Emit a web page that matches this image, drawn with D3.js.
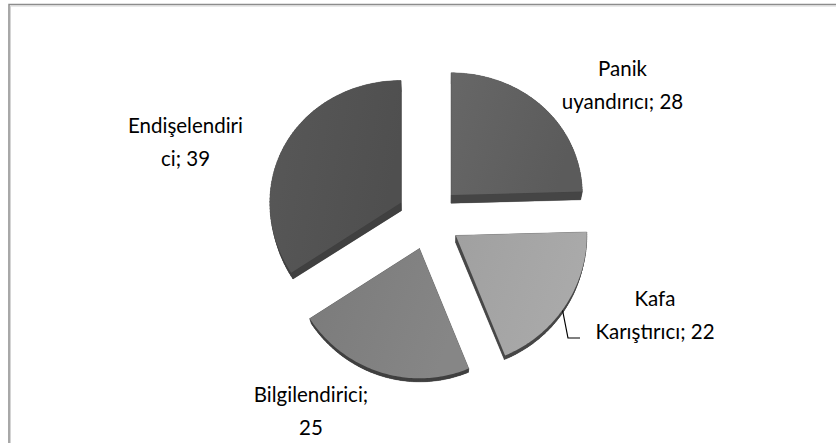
<!DOCTYPE html>
<html lang="tr">
<head>
<meta charset="utf-8">
<script src="https://cdn.jsdelivr.net/npm/d3@7"></script>
<style>
html,body{margin:0;padding:0;background:#fff;overflow:hidden}
svg{display:block}
text{font-family:Lato,"Open Sans",sans-serif;font-size:20.5px;fill:#000;text-anchor:middle}
</style>
</head>
<body>
<svg id="chart" width="836" height="443"></svg>
<script>
const categories = ["Panik uyandırıcı", "Kafa Karıştırıcı", "Bilgilendirici", "Endişelendirici"];
const values = [28, 22, 25, 39];
const labelLines = [
  ["Panik", "uyandırıcı; 28"],
  ["Kafa", "Karıştırıcı; 22"],
  ["Bilgilendirici;", "25"],
  ["Endişelendiri", "ci; 39"]
];
const topColors = [["#676767", "#5b5b5b"], ["#a0a0a0", "#aaaaaa"], ["#7a7a7a", "#868686"], ["#585858", "#4f4f4f"]];
const wallColors = ["#454545", "#474747", "#404040", "#404040"];

const W = 836, H = 443;
const cx = 429, cy = 218, explode = 32, rx = 131, ryMid = 126, persp = 0.03;
const labelPos = [[622.5, 76], [655, 306], [311, 402], [185.5, 133]];
const lineGap = 33;

const svg = d3.select("#chart");
const defs = svg.append("defs");

svg.append("path")
  .attr("d", `M9 ${H} V4.5 H${W}`)
  .attr("fill", "none").attr("stroke", "#8c8c8c").attr("stroke-width", 1.5);
svg.append("path")
  .attr("d", `M10.5 ${H} V6 H${W}`)
  .attr("fill", "none").attr("stroke", "#d4d4d4").attr("stroke-width", 1);

const arcs = d3.pie().sort(null).startAngle(0).endAngle(2 * Math.PI)(values);

const depthScale = d3.scaleLinear().domain([200, 380]).range([8, 3.5]);
const shiftScale = d3.scaleLinear().domain([290, 590]).range([1.8, -1.8]);
const line = d3.line().x(d => d[0]).y(d => d[1]);

arcs.forEach((a, i) => {
  const mid = (a.startAngle + a.endAngle) / 2;
  const ox = cx + explode * Math.sin(mid);
  const oy = cy - explode * Math.cos(mid);
  const pt = ang => {
    const t = -Math.cos(ang);
    return [ox + rx * Math.sin(ang), oy + ryMid * t * (1 + persp * t)];
  };
  const n = 80;
  const outline = [[ox, oy]].concat(d3.range(n + 1).map(k => pt(a.startAngle + (a.endAngle - a.startAngle) * k / n)));
  const lower = outline.map(p => [p[0] + shiftScale(p[0]), p[1] + depthScale(p[1])]);

  const g = svg.append("g").attr("class", "slice").datum(categories[i]);
  g.append("path").attr("d", line(lower) + "Z").attr("fill", wallColors[i]);
  g.selectAll("path.wall").data(d3.range(outline.length)).join("path")
    .attr("class", "wall")
    .attr("d", k => {
      const m = (k + 1) % outline.length;
      return line([outline[k], outline[m], lower[m], lower[k]]) + "Z";
    })
    .attr("fill", wallColors[i]).attr("stroke", wallColors[i]).attr("stroke-width", 0.4);

  const id = "top" + i;
  const grad = defs.append("linearGradient").attr("id", id)
    .attr("x1", 0).attr("y1", 0).attr("x2", 1).attr("y2", 0.3);
  grad.append("stop").attr("offset", 0).attr("stop-color", topColors[i][0]);
  grad.append("stop").attr("offset", 1).attr("stop-color", topColors[i][1]);
  g.append("path").attr("d", line(outline) + "Z").attr("fill", `url(#${id})`);
});

svg.append("path")
  .attr("d", "M562.6 310.5 L568 338 H580")
  .attr("fill", "none").attr("stroke", "#000").attr("stroke-width", 1.2);

labelLines.forEach((lines, i) => {
  const t = svg.append("text");
  lines.forEach((s, j) => {
    t.append("tspan")
      .attr("x", labelPos[i][0])
      .attr("y", labelPos[i][1] + j * lineGap)
      .text(s);
  });
});
</script>
</body>
</html>
